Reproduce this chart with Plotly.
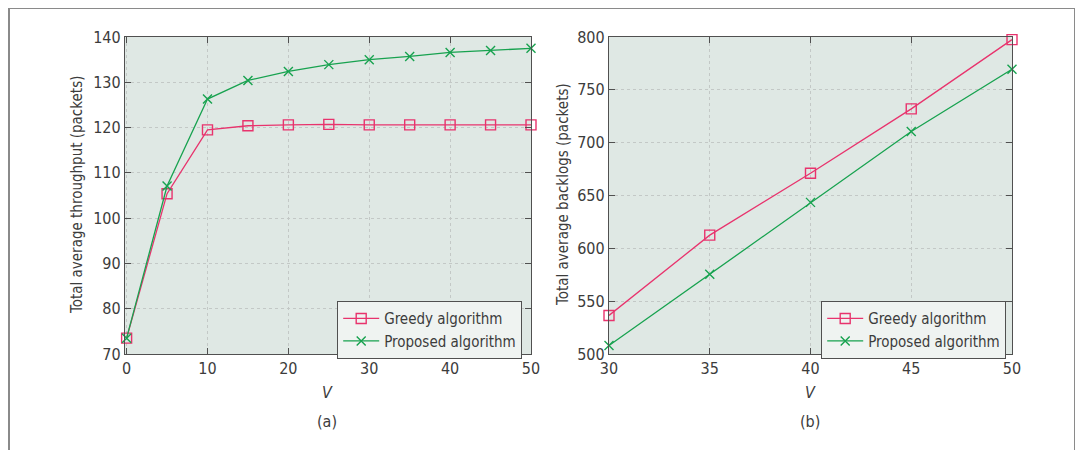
import plotly.graph_objects as go

# ---- data ----
v_a = [0, 5, 10, 15, 20, 25, 30, 35, 40, 45, 50]
greedy_a = [73.5, 105.4, 119.5, 120.4, 120.6, 120.7, 120.6, 120.6, 120.6, 120.6, 120.6]
proposed_a = [73.5, 107.1, 126.3, 130.4, 132.4, 133.9, 135.0, 135.7, 136.6, 137.0, 137.5]

v_b = [30, 35, 40, 45, 50]
greedy_b = [536.5, 612.5, 671.0, 732.0, 797.5]
proposed_b = [508.0, 575.5, 643.5, 710.5, 769.5]

yticks_a = [70, 80, 90, 100, 110, 120, 130, 140]
xticks_a = [0, 10, 20, 30, 40, 50]
yticks_b = [500, 550, 600, 650, 700, 750, 800]
xticks_b = [30, 35, 40, 45, 50]

OFF = 8  # page body margin
W, H = 1083 - OFF, 450 - OFF
FONT = "DejaVu Sans Condensed, Roboto, sans-serif"
FS = 15
TXT = "#3c3c3c"
PINK = "#e8336d"
GREEN = "#17a24f"
BG = "#dfe8e4"
GRID = "#c3c8c6"
AX = "#505050"

def px(x):
    return (x - OFF) / W

def py(y):
    return 1 - (y - OFF) / H

fig = go.Figure()

common_line = dict(width=1.3)
sq = dict(symbol="square-open", size=10, color=PINK, line=dict(width=1.4, color=PINK))
xm = dict(symbol="x-thin-open", size=9, color=GREEN, line=dict(width=1.4, color=GREEN))
fig.add_trace(go.Scatter(x=v_a, y=greedy_a, mode="lines+markers", name="Greedy algorithm",
                         line=dict(color=PINK, **common_line), marker=sq,
                         xaxis="x", yaxis="y", legend="legend", cliponaxis=False))
fig.add_trace(go.Scatter(x=v_a, y=proposed_a, mode="lines+markers", name="Proposed algorithm",
                         line=dict(color=GREEN, **common_line), marker=xm,
                         xaxis="x", yaxis="y", legend="legend", cliponaxis=False))
fig.add_trace(go.Scatter(x=v_b, y=greedy_b, mode="lines+markers", name="Greedy algorithm",
                         line=dict(color=PINK, **common_line), marker=sq,
                         xaxis="x2", yaxis="y2", legend="legend2", cliponaxis=False))
fig.add_trace(go.Scatter(x=v_b, y=proposed_b, mode="lines+markers", name="Proposed algorithm",
                         line=dict(color=GREEN, **common_line), marker=xm,
                         xaxis="x2", yaxis="y2", legend="legend2", cliponaxis=False))

axis_common = dict(showline=True, linecolor=AX, linewidth=1.3, mirror="ticks",
                   ticks="inside", ticklen=6, tickcolor=AX, tickwidth=1.2,
                   showgrid=True, gridcolor=GRID, griddash="dot", gridwidth=1.3,
                   zeroline=False, tickfont=dict(family=FONT, size=16, color=TXT))

leg = dict(xanchor="left", yanchor="top",
           bgcolor="#eff3f1", bordercolor=AX, borderwidth=1.2,
           font=dict(family=FONT, size=FS, color=TXT), tracegroupgap=0,
           itemwidth=36)

fig.update_layout(
    width=W, height=H,
    margin=dict(l=0, r=0, t=0, b=0, autoexpand=False),
    paper_bgcolor="white", plot_bgcolor=BG,
    font=dict(family=FONT, size=FS, color=TXT),
    xaxis=dict(domain=[px(125), px(531)], range=[-0.2, 50], tickvals=xticks_a, anchor="y", **axis_common),
    yaxis=dict(domain=[py(354), py(37)], range=[70, 140], tickvals=yticks_a, anchor="x", **axis_common),
    xaxis2=dict(domain=[px(609), px(1012)], range=[30, 50], tickvals=xticks_b, anchor="y2", **axis_common),
    yaxis2=dict(domain=[py(354), py(37)], range=[500, 800], tickvals=yticks_b, anchor="x2", **axis_common),
    legend=dict(x=px(337), y=py(301), **leg),
    legend2=dict(x=px(821), y=py(301), **leg),
    showlegend=True,
)

ann = []
ann.append(dict(text="Total average throughput (packets)", x=px(77), y=py(195), xref="paper", yref="paper",
                xanchor="center", yanchor="middle",
                textangle=-90, showarrow=False, font=dict(family=FONT, size=FS, color=TXT)))
ann.append(dict(text="Total average backlogs (packets)", x=px(563), y=py(195), xref="paper", yref="paper",
                xanchor="center", yanchor="middle",
                textangle=-90, showarrow=False, font=dict(family=FONT, size=FS, color=TXT)))
for cx, lab in [(327, "(a)"), (810, "(b)")]:
    ann.append(dict(text="<i>V</i>", x=px(cx), y=py(392), xref="paper", yref="paper",
                    xanchor="center", yanchor="middle",
                    showarrow=False, font=dict(family=FONT, size=FS + 1, color=TXT)))
    ann.append(dict(text=lab, x=px(cx), y=py(421), xref="paper", yref="paper",
                    xanchor="center", yanchor="middle",
                    showarrow=False, font=dict(family=FONT, size=FS + 1, color=TXT)))
fig.update_layout(annotations=ann)

# outer frame (top, left, right)
frame = dict(color="#8a8a8a", width=2)
fig.add_shape(type="line", xref="paper", yref="paper", x0=px(9), x1=px(1075), y0=py(8), y1=py(8), line=frame)
fig.add_shape(type="line", xref="paper", yref="paper", x0=px(9), x1=px(9), y0=py(8), y1=py(460), line=frame)
fig.add_shape(type="line", xref="paper", yref="paper", x0=px(1075), x1=px(1075), y0=py(8), y1=py(460), line=frame)

fig.write_html("out.html")
